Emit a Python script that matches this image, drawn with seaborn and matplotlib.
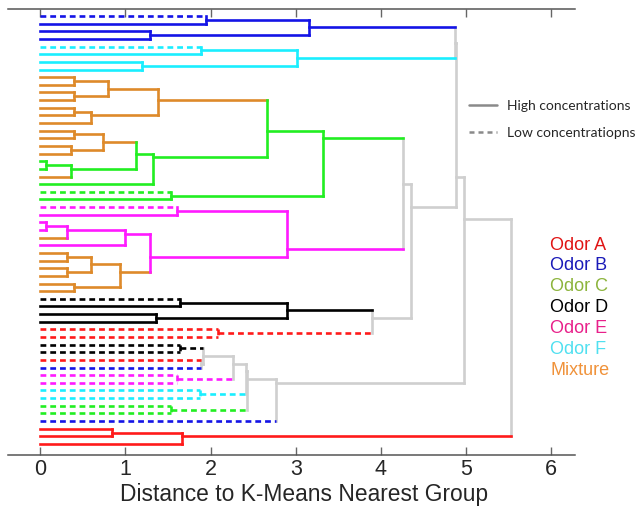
import matplotlib
matplotlib.use("Agg")
import matplotlib.pyplot as plt
import seaborn as sns
from matplotlib.lines import Line2D

# Leaves are "<odor><conc>": odor A-F or M (mixture), conc h (high) / l (low).
# Internal nodes are (left, right, merge distance).
blue_tree = (("Bl", "Bh", 1.95), ("Bh", "Bh", 1.29), 3.15)
cyan_tree = (("Fl", "Fh", 1.89), ("Fh", "Fh", 1.19), 3.02)
green_tree = (
    (
        ((("Mh", "Mh", 0.40), ("Mh", "Mh", 0.40), 0.80),
         (("Mh", "Mh", 0.40), "Mh", 0.60), 1.38),
        (((("Mh", "Mh", 0.40), ("Mh", "Mh", 0.36), 0.74),
          (("Ch", "Ch", 0.07), "Mh", 0.36), 1.12), "Ch", 1.32),
        2.66),
    ("Cl", "Ch", 1.53),
    3.32)
magenta_tree = (
    ("El", "Eh", 1.60),
    (((("Eh", "Eh", 0.07), "Mh", 0.31), "Eh", 0.99),
     ((("Mh", "Mh", 0.31), ("Mh", "Mh", 0.31), 0.60), ("Mh", "Mh", 0.40), 0.93),
     1.29),
    2.90)
black_tree = (("Dl", "Dh", 1.64), ("Dh", "Dh", 1.36), 2.90)
red_low_tree = ("Al", "Al", 2.09)
low_tree = (
    ((((("Dl", "Dl", 1.64), ("Al", "Bl", 1.89), 1.91),
       ("El", "El", 1.60), 2.26),
      ("Fl", "Fl", 1.88), 2.41),
     ("Cl", "Cl", 1.53), 2.43),
    "Bl", 2.77)
red_tree = (("Ah", "Ah", 0.84), "Ah", 1.66)

# Higher-level merges between the groups above
blue_cyan = (blue_tree, cyan_tree, 4.87)
green_magenta = (green_tree, magenta_tree, 4.26)
black_red = (black_tree, red_low_tree, 3.90)
mid_group = (green_magenta, black_red, 4.35)
upper_group = (blue_cyan, mid_group, 4.88)
main_group = (upper_group, low_tree, 4.98)
root = (main_group, red_tree, 5.53)

odor_codes = ["A", "B", "C", "D", "E", "F", "M"]
odor_names = ["Odor A", "Odor B", "Odor C", "Odor D", "Odor E", "Odor F", "Mixture"]
line_colors = ["#ff1a1a", "#1414e6", "#22ee22", "#000000", "#ff1aff", "#1aeeff", "#de8a2a"]
text_colors = ["#e01414", "#1a1ab8", "#8cb43c", "#000000", "#e8208a", "#50e0f0", "#f0923a"]
link_gray = "#cfcfcf"
tick_values = [0, 1, 2, 3, 4, 5, 6]

line_of = dict(zip(odor_codes, line_colors))
dash_pattern = (0, (2.2, 1.5))

sns.set_theme(style="white")
plt.rcParams["font.family"] = ["Liberation Sans", "DejaVu Sans"]

fig = plt.figure(figsize=(6.37, 5.13), dpi=100)
ax = fig.add_axes([8 / 637, 1 - 455 / 513, 567 / 637, (455 - 9) / 513])

segments = []
counter = [0]


def node_style(odors, low):
    if len(odors) == 1:
        return line_of[next(iter(odors))], low
    singles = odors - {"M"}
    if "M" in odors and len(singles) == 1:
        return line_of[next(iter(singles))], False
    return link_gray, False


def build(node):
    if isinstance(node, str):
        pos = counter[0]
        counter[0] += 1
        odors = {node[0]}
        low = node[1] == "l"
        color, dashed = node_style(odors, low)
        return dict(h=0.0, leaves=[pos], odors=odors, low=low, color=color, dashed=dashed)
    left, right, h = node
    a = build(left)
    b = build(right)
    leaves = a["leaves"] + b["leaves"]
    odors = a["odors"] | b["odors"]
    low = a["low"] and b["low"]
    color, dashed = node_style(odors, low)
    ya = sum(a["leaves"]) / len(a["leaves"])
    yb = sum(b["leaves"]) / len(b["leaves"])
    for child, yc in ((a, ya), (b, yb)):
        segments.append(([child["h"], h], [yc, yc], child["color"], child["dashed"]))
    segments.append(([h, h], [ya, yb], color, dashed))
    return dict(h=h, leaves=leaves, odors=odors, low=low, color=color, dashed=dashed)


build(root)
n_leaves = counter[0]

for xs, ys, color, dashed in segments:
    ax.plot(xs, ys, color=color, lw=1.9,
            ls=dash_pattern if dashed else "-",
            solid_capstyle="projecting", dash_capstyle="butt",
            zorder=1 if color == link_gray else 2)

ax.set_xlim(-0.38, 6.28)
ax.set_ylim(n_leaves - 1 + 1.44, -0.92)
ax.set_xticks(tick_values)
ax.set_xticklabels([str(t) for t in tick_values], fontsize=15.5)
ax.set_yticks([])
ax.set_xlabel("Distance to K-Means Nearest Group", fontsize=16.4)
ax.xaxis.set_label_coords((304 - 8) / 567, (455 - 494) / 446)
ax.xaxis.label.set_va("center")
for side in ("left", "right"):
    ax.spines[side].set_visible(False)
for side in ("top", "bottom"):
    ax.spines[side].set_visible(True)
    ax.spines[side].set_color("#555555")
    ax.spines[side].set_linewidth(1.1)
ax.tick_params(axis="x", direction="in", length=6, width=1, color="#666666",
               top=True, bottom=True, labeltop=False, pad=3)

# Line-style key
handles = [Line2D([], [], color="#8a8a8a", lw=1.8),
           Line2D([], [], color="#8a8a8a", lw=1.8, ls=(0, (2.0, 1.6)))]
fig.legend(handles, ["High concentrations", "Low concentratiopns"],
           loc="upper left", bbox_to_anchor=(469 / 637, 1 - 100 / 513),
           frameon=False, borderpad=0, borderaxespad=0,
           handlelength=2.0, handletextpad=0.75, labelspacing=1.05,
           prop={"family": "Lato", "size": 10})

# Colour key
for i, (name, tc) in enumerate(zip(odor_names, text_colors)):
    fig.text(550 / 637, 1 - (245 + 20.9 * i) / 513, name, color=tc,
             fontsize=13, va="center", ha="left")

fig.savefig("out.png", dpi=100)
